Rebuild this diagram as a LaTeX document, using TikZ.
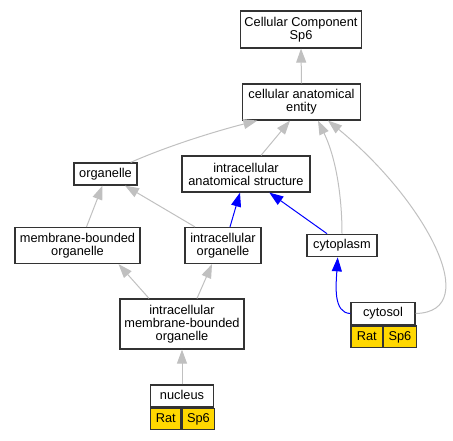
\documentclass[tikz,border=0pt]{standalone}
\usepackage{fontspec}
\setmainfont{Liberation Sans}
\usetikzlibrary{positioning, arrows.meta}

\definecolor{gold}{HTML}{FFD700}
\definecolor{edgegray}{HTML}{C0C0C0}

\tikzset{
    term/.style={draw=black!80, line width=1.2pt, fill=white, rectangle, align=center, inner sep=0pt, font=\fontsize{12.8}{13}\selectfont},
    oneline/.style={term, text height=9.2pt, text depth=2.6pt},
    taxon/.style={oneline, fill=gold, minimum height=21.5pt},
    isa/.style={draw=edgegray, line width=1pt, -{Triangle[length=14pt, width=10pt]}},
    partof/.style={draw=blue, line width=1pt, -{Triangle[length=14pt, width=10pt]}}
}

\begin{document}
\begin{tikzpicture}[x=1pt, y=-1pt]
    \useasboundingbox (0,0) rectangle (453,440);

    \node (cc) [term, minimum width=121pt, minimum height=37pt] at (301,29.5) {Cellular Component\\Sp6};
    \node (cae) [term, minimum width=118pt, minimum height=36pt] at (301.5,102) {cellular anatomical\\entity};
    \node (organelle) [oneline, minimum width=63pt, minimum height=22pt] at (105.5,174) {organelle};
    \node (ias) [term, minimum width=128pt, minimum height=36pt] at (246,174) {intracellular\\anatomical structure};
    \node (mbo) [term, minimum width=125pt, minimum height=36pt] at (77.5,245.5) {membrane-bounded\\organelle};
    \node (io) [term, minimum width=76pt, minimum height=36pt] at (223,245.5) {intracellular\\organelle};
    \node (cytoplasm) [oneline, minimum width=70pt, minimum height=22.5pt] at (342,245.5) {cytoplasm};
    \node (imbo) [term, minimum width=124pt, minimum height=50pt] at (182,324) {intracellular\\membrane-bounded\\organelle};

    \node (cytosol) [oneline, minimum width=64pt, minimum height=22.5pt] at (383,313.5) {cytosol};
    \node (cytosolrat) [taxon, minimum width=31.5pt, below right=0pt of cytosol.south west] {Rat};
    \node (cytosolsp) [taxon, minimum width=32.5pt, right=0pt of cytosolrat] {Sp6};

    \node (nucleus) [oneline, minimum width=63pt, minimum height=22pt] at (182,396) {nucleus};
    \node (nucleusrat) [taxon, minimum width=30.5pt, below right=0pt of nucleus.south west] {Rat};
    \node (nucleussp) [taxon, minimum width=32.5pt, right=0pt of nucleusrat] {Sp6};

    % is_a
    \draw [isa] (cae.north) -- (cc.south);
    \draw [isa] ([xshift=-7pt]organelle.north east) .. controls (170,145) and (220,130) .. ([xshift=15.5pt]cae.south west);
    \draw [isa] ([xshift=15pt]ias.north) -- ([xshift=-11.5pt]cae.south);
    \draw [isa] (cytoplasm.north) .. controls (342,200) and (337,160) .. ([xshift=16.5pt]cae.south);
    \draw [isa] (cytosol.east) .. controls (485,312) and (425,200) .. ([xshift=26.5pt]cae.south);
    \draw [isa] ([xshift=9pt]mbo.north) -- ([xshift=-3pt]organelle.south);
    \draw [isa] ([xshift=-28pt]io.north) -- ([xshift=19.5pt]organelle.south);
    \draw [isa] ([xshift=-33pt]imbo.north) -- ([xshift=41pt]mbo.south);
    \draw [isa] ([xshift=15pt]imbo.north) -- ([xshift=-11pt]io.south);
    \draw [isa] (nucleus.north) -- (imbo.south);

    % part_of
    \draw [partof] ([xshift=7pt]io.north) -- ([xshift=-6pt]ias.south);
    \draw [partof] ([xshift=-15pt]cytoplasm.north) -- ([xshift=23.3pt]ias.south);
    \draw [partof] (cytosol.west) .. controls (333,313) and (336,285) .. ([xshift=-4.3pt]cytoplasm.south);
\end{tikzpicture}
\end{document}
